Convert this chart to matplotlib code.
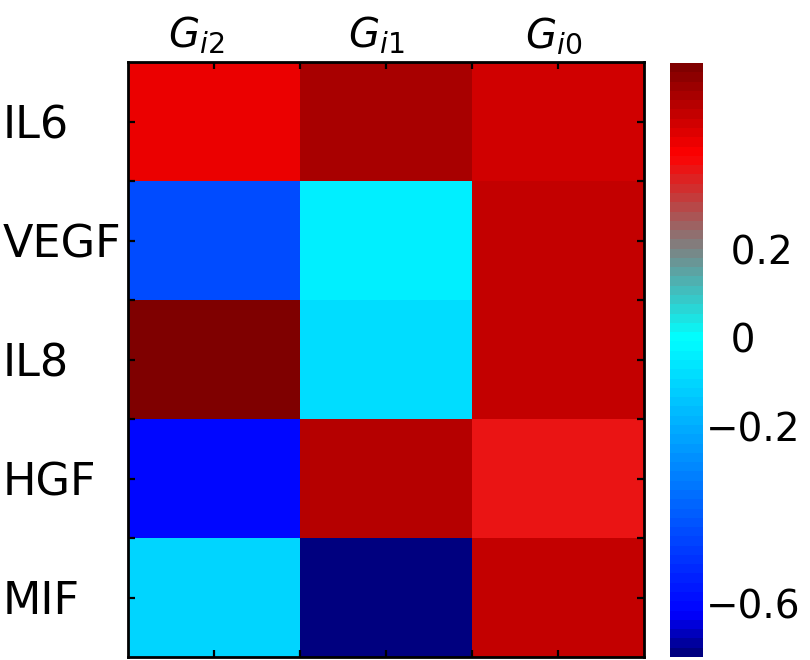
import numpy as np
import matplotlib
matplotlib.use("Agg")
import matplotlib.pyplot as plt
from matplotlib.colors import LinearSegmentedColormap, Normalize
from matplotlib.transforms import ScaledTranslation

# ---- data ----
rows = ["IL6", "VEGF", "IL8", "HGF", "MIF"]
cols = [r"$\mathit{G}_{\mathit{i2}}$", r"$\mathit{G}_{\mathit{i1}}$", r"$\mathit{G}_{\mathit{i0}}$"]
col_gi2 = [0.448, -0.44, 0.62, -0.61, -0.107]
col_gi1 = [0.544, -0.05, -0.076, 0.52, -0.71]
col_gi0 = [0.49, 0.51, 0.51, 0.374, 0.51]
cbar_ticks = [0.2, 0.0, -0.2, -0.6]
cbar_ticklabels = ["  0.2", "  0", "\u22120.2", "\u22120.6"]
vmin, vmax = -0.72, 0.62

# colormap stops (value, colour)
stop_vals = [vmin, -0.63, 0.0, 0.42, vmax]
stop_cols = [(0, 0, 0.5), (0, 0, 1), (0, 1, 1), (1, 0, 0), (0.5, 0, 0)]

data = np.column_stack([col_gi2, col_gi1, col_gi0])

plt.rcParams['font.family'] = ['DejaVu Sans']
plt.rcParams['mathtext.fontset'] = 'dejavusans'

pos = [(v - vmin) / (vmax - vmin) for v in stop_vals]
cmap = LinearSegmentedColormap.from_list("custom", list(zip(pos, stop_cols)), N=64)
norm = Normalize(vmin=vmin, vmax=vmax)

fig = plt.figure(figsize=(8.1, 6.6), dpi=100)
ax = fig.add_axes([128/810, 3/660, 516/810, 595/660])
im = ax.imshow(data, cmap=cmap, norm=norm, aspect='auto', interpolation='nearest')

ax.set_xticks(range(len(cols)))
ax.set_xticklabels(cols, fontsize=29)
ax.set_yticks(range(len(rows)))
ax.set_yticklabels(rows, fontsize=32, ha='left')
ax.set_xticks(np.arange(0.5, len(cols) - 1, 1.0), minor=True)
ax.set_yticks(np.arange(0.5, len(rows) - 1, 1.0), minor=True)

ax.tick_params(which='both', direction='in', top=True, bottom=True, left=True, right=True,
               labeltop=True, labelbottom=False, labelleft=True, labelright=False,
               length=5, width=1.6, color='black')
ax.tick_params(axis='x', which='major', pad=4)
ax.tick_params(axis='y', which='major', pad=90)
for s in ax.spines.values():
    s.set_linewidth(2.0)

fig.canvas.draw()
label_shift_px = [-18, -10, -4]
for lab, dx in zip(ax.xaxis.get_majorticklabels(), label_shift_px):
    lab.set_transform(lab.get_transform() + ScaledTranslation(dx / 100, 0, fig.dpi_scale_trans))

cax = fig.add_axes([670/810, 3/660, 33/810, 594/660])
cb = fig.colorbar(im, cax=cax)
cb.outline.set_linewidth(0)
cb.set_ticks(cbar_ticks)
cb.set_ticklabels(cbar_ticklabels)
cax.tick_params(length=0, labelsize=28, pad=2)

fig.savefig("out.png", dpi=100)
